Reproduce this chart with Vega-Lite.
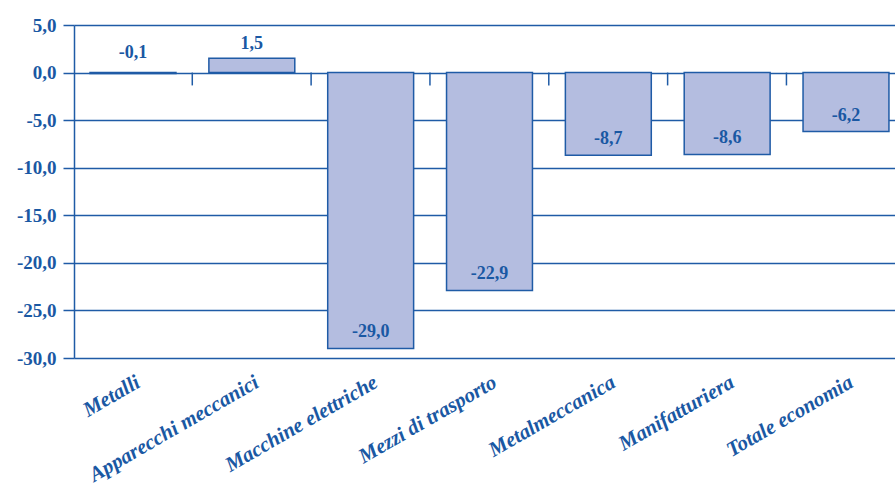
{
  "$schema": "https://vega.github.io/schema/vega-lite/v6.json",
  "autosize": "none",
  "width": 821,
  "height": 333,
  "padding": {"left": 74, "top": 25, "right": 0, "bottom": 128},
  "config": {
    "locale": {"number": {"decimal": ",", "thousands": ".", "grouping": [3], "currency": ["€", ""], "minus": "-"}},
    "view": {"stroke": null},
    "font": "Liberation Serif"
  },
  "data": {"values": [
    {"cat": "Metalli", "value": -0.1},
    {"cat": "Apparecchi meccanici", "value": 1.5},
    {"cat": "Macchine elettriche", "value": -29.0},
    {"cat": "Mezzi di trasporto", "value": -22.9},
    {"cat": "Metalmeccanica", "value": -8.7},
    {"cat": "Manifatturiera", "value": -8.6},
    {"cat": "Totale economia", "value": -6.2}
  ]},
  "encoding": {
    "x": {"field": "cat", "type": "nominal", "sort": null, "title": null,
      "scale": {"range": [0, 831], "paddingInner": 0.277, "paddingOuter": 0.135},
      "axis": {"domain": false, "ticks": false, "labelAngle": -30, "labelPadding": 13, "labelLimit": 400,
        "labelFont": "Liberation Serif", "labelFontSize": 21, "labelFontWeight": "bold", "labelFontStyle": "italic",
        "labelColor": "#1a58a3"}}
  },
  "layer": [
    {
      "mark": {"type": "bar", "fill": "#b4bde0", "stroke": "#1f5ba6", "strokeWidth": 1.5},
      "encoding": {
        "y": {"field": "value", "type": "quantitative", "title": null,
          "scale": {"domain": [-30, 5], "nice": false, "zero": false},
          "axis": {"values": [5, 0, -5, -10, -15, -20, -25, -30], "format": ".1f",
            "domainColor": "#1f5ba6", "domainWidth": 1.5,
            "tickColor": "#1f5ba6", "tickWidth": 1.5, "tickSize": 11,
            "gridColor": "#1f5ba6", "gridWidth": 1.5, "gridOpacity": 1,
            "labelFont": "Liberation Serif", "labelFontSize": 19, "labelFontWeight": "bold",
            "labelColor": "#1a58a3", "labelPadding": 7}}
      }
    },
    {
      "mark": {"type": "rule", "stroke": "#1f5ba6", "strokeWidth": 1.5},
      "encoding": {
        "x": {"field": "cat", "type": "nominal", "sort": null, "bandPosition": 1.19},
        "y": {"datum": 0, "type": "quantitative"},
        "y2": {"datum": -1.35}
      }
    },
    {
      "transform": [{"filter": "datum.value < -1"}],
      "mark": {"type": "text", "font": "Liberation Serif", "fontSize": 18, "fontWeight": "bold", "color": "#1a58a3", "baseline": "middle", "dy": -16},
      "encoding": {
        "y": {"field": "value", "type": "quantitative"},
        "text": {"field": "value", "type": "quantitative", "format": ".1f"}
      }
    },
    {
      "transform": [{"filter": "datum.value >= 0"}],
      "mark": {"type": "text", "font": "Liberation Serif", "fontSize": 18, "fontWeight": "bold", "color": "#1a58a3", "baseline": "middle", "dy": -14},
      "encoding": {
        "y": {"field": "value", "type": "quantitative"},
        "text": {"field": "value", "type": "quantitative", "format": ".1f"}
      }
    },
    {
      "transform": [{"filter": "datum.value < 0 && datum.value >= -1"}],
      "mark": {"type": "text", "font": "Liberation Serif", "fontSize": 18, "fontWeight": "bold", "color": "#1a58a3", "baseline": "middle", "dy": -21},
      "encoding": {
        "y": {"field": "value", "type": "quantitative"},
        "text": {"field": "value", "type": "quantitative", "format": ".1f"}
      }
    }
  ]
}
